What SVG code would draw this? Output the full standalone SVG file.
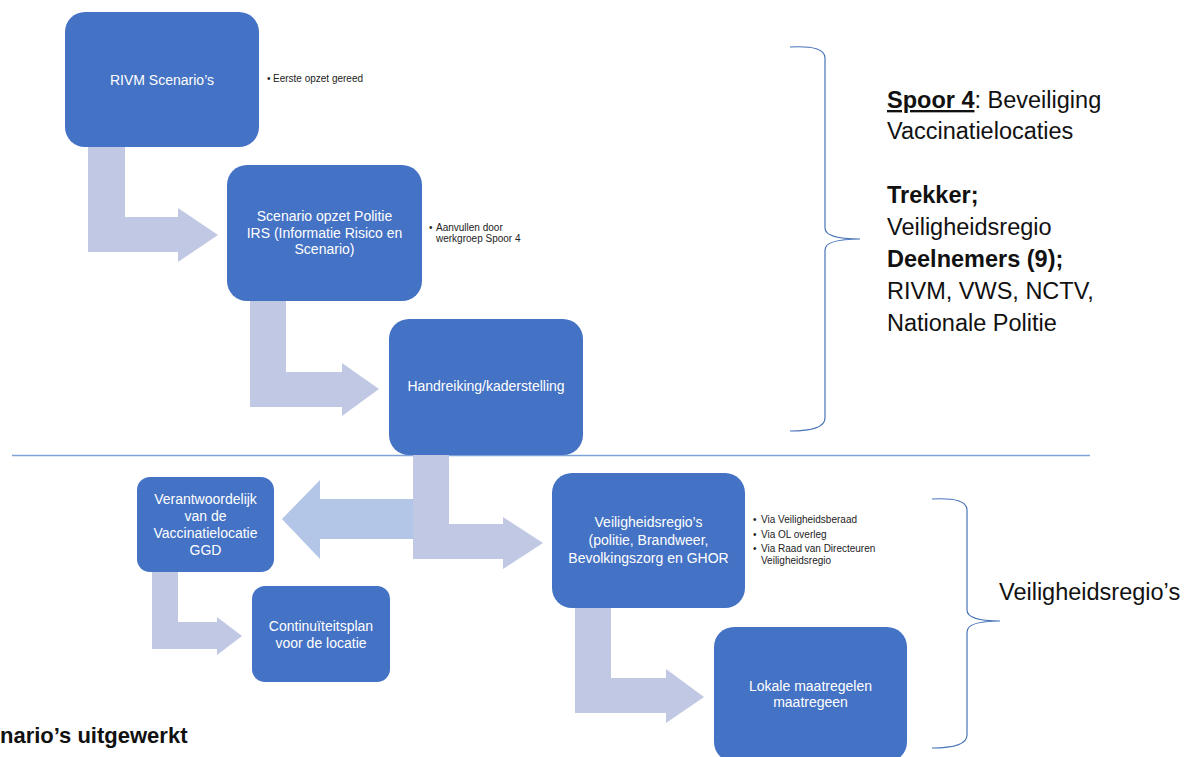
<svg xmlns="http://www.w3.org/2000/svg" width="1195" height="757" viewBox="0 0 1195 757">
<style>
.box{fill:#4472c4}
.bt{font-family:"Liberation Sans",Arial,sans-serif;font-size:14px;fill:#ffffff;text-anchor:middle}
.bl{font-family:"Liberation Sans",Arial,sans-serif;font-size:10px;fill:#222222}
.side{font-family:"Liberation Sans",Arial,sans-serif;font-size:23.5px;fill:#111111}
.arr{fill:#c1c8e4}
.arr2{fill:#b3c6e8}
.brace{fill:none;stroke:#4a74b8;stroke-width:1.2}
.sep{stroke:#7fa3d8;stroke-width:1.3}
</style>
<rect x="0" y="0" width="1195" height="757" fill="#ffffff"/>
<line class="sep" x1="12" y1="455.5" x2="1090" y2="455.5"/>
<g id="connectors">
  <polygon class="arr" points="88,147 125,147 125,217 178,217 178,208 218,235 178,262 178,252 88,252"/>
  <polygon class="arr" points="250,301 286,301 286,372 342,372 342,363 379,389 342,416 342,407 250,407"/>
  <polygon class="arr2" points="413,499 320,499 320,480 282,519 320,559 320,539 413,539"/>
  <polygon class="arr" points="413,455 449,455 449,524 503,524 503,517 543,543 503,569 503,559 413,559"/>
  <polygon class="arr" points="152,572 178,572 178,622 217,622 217,617 242,636 217,655 217,649 152,649"/>
  <polygon class="arr" points="575,608 611,608 611,678 666,678 666,669 704,697 666,723 666,713 575,713"/>
  <path class="brace" d="M790,47 Q825,45 825,58 L825,228 Q825,239 860,239 Q825,239 825,250 L825,418 Q825,431 790,431"/>
  <path class="brace" d="M932,499 Q967,497 967,510 L967,610 Q967,621 1000,621 Q967,621 967,632 L967,735 Q967,748 932,748"/>
</g>
<g id="rivm">
  <rect class="box" x="65" y="12" width="194" height="135" rx="20"/>
  <text class="bt" x="162" y="85">RIVM Scenario’s</text>
  <text class="bl" x="267" y="82">•<tspan x="273">Eerste opzet gereed</tspan></text>
</g>
<g id="scenario">
  <rect class="box" x="227" y="165" width="195" height="136" rx="20"/>
  <text class="bt" x="324.5" y="221">Scenario opzet Politie</text>
  <text class="bt" x="324.5" y="238">IRS (Informatie Risico en</text>
  <text class="bt" x="324.5" y="254">Scenario)</text>
  <text class="bl" x="429" y="231">•<tspan x="436">Aanvullen door</tspan></text>
  <text class="bl" x="436" y="242">werkgroep Spoor 4</text>
</g>
<g id="handreiking">
  <rect class="box" x="389" y="319" width="194" height="136" rx="20"/>
  <text class="bt" x="486" y="391" font-size="14.5">Handreiking/kaderstelling</text>
</g>
<g id="ggd">
  <rect class="box" x="137" y="477" width="137" height="95" rx="13"/>
  <text class="bt" x="205.5" y="504">Verantwoordelijk</text>
  <text class="bt" x="205.5" y="521">van de</text>
  <text class="bt" x="205.5" y="538">Vaccinatielocatie</text>
  <text class="bt" x="205.5" y="555">GGD</text>
</g>
<g id="continuiteit">
  <rect class="box" x="252" y="586" width="138" height="96" rx="13"/>
  <text class="bt" x="321" y="631">Continuïteitsplan</text>
  <text class="bt" x="321" y="648">voor de locatie</text>
</g>
<g id="veiligheidsregios">
  <rect class="box" x="552" y="473" width="193" height="135" rx="20"/>
  <text class="bt" x="648.5" y="527">Veiligheidsregio’s</text>
  <text class="bt" x="648.5" y="545">(politie, Brandweer,</text>
  <text class="bt" x="648.5" y="563">Bevolkingszorg en GHOR</text>
  <text class="bl" x="753" y="523">•<tspan x="761">Via Veiligheidsberaad</tspan></text>
  <text class="bl" x="753" y="538">•<tspan x="761">Via OL overleg</tspan></text>
  <text class="bl" x="753" y="552">•<tspan x="761">Via Raad van Directeuren</tspan></text>
  <text class="bl" x="761" y="564">Veiligheidsregio</text>
</g>
<g id="lokale">
  <rect class="box" x="714" y="627" width="193" height="135" rx="20"/>
  <text class="bt" x="810.5" y="691">Lokale maatregelen</text>
  <text class="bt" x="810.5" y="707">maatregeen</text>
</g>
<g id="spoor4">
  <text class="side" x="887" y="108"><tspan font-weight="bold" text-decoration="underline">Spoor 4</tspan>: Beveiliging</text>
  <text class="side" x="887" y="139">Vaccinatielocaties</text>
  <text class="side" x="887" y="203" font-weight="bold">Trekker;</text>
  <text class="side" x="887" y="235">Veiligheidsregio</text>
  <text class="side" x="887" y="267" font-weight="bold">Deelnemers (9);</text>
  <text class="side" x="887" y="299">RIVM, VWS, NCTV,</text>
  <text class="side" x="887" y="331">Nationale Politie</text>
</g>
<g id="veiligheidsregios-label">
  <text class="side" x="999" y="600">Veiligheidsregio’s</text>
</g>
<g id="footer">
  <text x="0" y="743" font-family="'Liberation Sans',Arial,sans-serif" font-size="22" font-weight="bold" fill="#111111">nario’s uitgewerkt</text>
</g>
</svg>
